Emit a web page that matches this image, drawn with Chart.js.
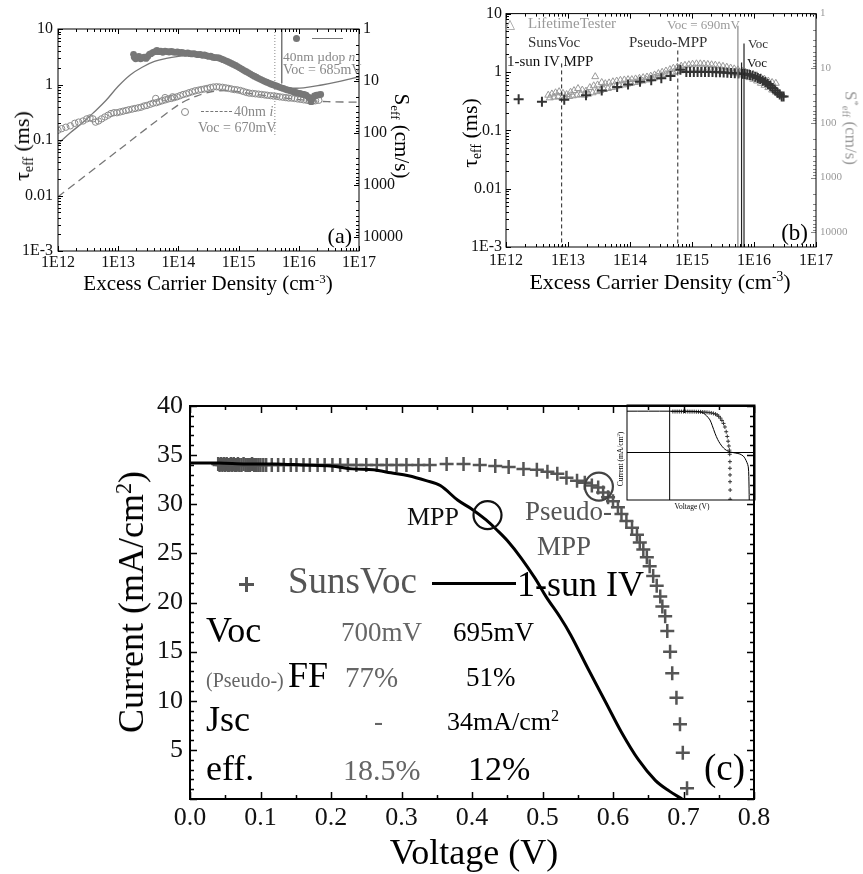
<!DOCTYPE html>
<html>
<head>
<meta charset="utf-8">
<script src="https://cdn.jsdelivr.net/npm/chart.js@4.4.0/dist/chart.umd.min.js"></script>
<style>
  body { margin: 0; background: #fff; width: 863px; height: 874px; overflow: hidden; position: relative; font-family: 'Liberation Serif', serif; }
  canvas { position: absolute; }
  .t { position: absolute; white-space: nowrap; line-height: 1em; color: #000; z-index: 5; }
  .t sub, .t sup { font-size: 0.62em; line-height: 0; vertical-align: baseline; position: relative; }
  .t sub { top: 0.3em; }
  .t sup { top: -0.55em; }
  .b { position: absolute; z-index: 5; }
</style>
</head>
<body>
<canvas id="chartA" width="430" height="300" style="left:0;top:0"></canvas>
<canvas id="chartB" width="433" height="300" style="left:430px;top:0"></canvas>
<canvas id="chartC" width="863" height="504" style="left:0;top:370px"></canvas>
<canvas id="chartInset" width="163" height="125" style="left:600px;top:395px"></canvas>
<script>
// ---- axis ticks ----
const X_DECADES = [1e12, 1e13, 1e14, 1e15, 1e16, 1e17];
const X_DECADE_LABELS = ['1E12', '1E13', '1E14', '1E15', '1E16', '1E17'];
const TAU_TICKS = [1e-3, 0.01, 0.1, 1, 10];
const TAU_LABELS = ['1E-3', '0.01', '0.1', '1', '10'];
const S_TICKS = [1, 10, 100, 1000, 10000];
const S_LABELS = ['1', '10', '100', '1000', '10000'];
const V_TICKS = [0, 0.1, 0.2, 0.3, 0.4, 0.5, 0.6, 0.7, 0.8];
const V_LABELS = ['0.0', '0.1', '0.2', '0.3', '0.4', '0.5', '0.6', '0.7', '0.8'];
const J_TICKS = [5, 10, 15, 20, 25, 30, 35, 40];

// ---- panel (a): 40nm µdop n (filled) and 40nm i (open) ----
const aDopN = [1.8e13, 1.85e13, 1.95e13, 2.05e13, 2.2e13, 2.35e13, 2.5e13, 2.7e13, 2.9e13, 3.1e13,
  3.3e13, 3.5e13, 3.8e13, 4.1e13, 4.4e13, 4.7e13, 5.1e13, 5.5e13, 6.0e13, 6.5e13,
  7.0e13, 7.6e13, 8.2e13, 8.9e13, 9.6e13, 1.04e14, 1.13e14, 1.22e14, 1.32e14, 1.43e14,
  1.55e14, 1.68e14, 1.82e14, 1.97e14, 2.13e14, 2.31e14, 2.5e14, 2.7e14, 2.93e14, 3.17e14,
  3.43e14, 3.72e14, 4.03e14, 4.36e14, 4.72e14, 5.11e14, 5.53e14, 5.99e14, 6.49e14, 7.03e14,
  7.6e14, 8.2e14, 8.9e14, 9.6e14, 1.04e15, 1.13e15, 1.22e15, 1.32e15, 1.43e15, 1.55e15,
  1.68e15, 1.82e15, 1.97e15, 2.13e15, 2.31e15, 2.5e15, 2.7e15, 2.93e15, 3.17e15, 3.43e15,
  3.72e15, 4.03e15, 4.36e15, 4.72e15, 5.11e15, 5.53e15, 5.99e15, 6.49e15, 7.03e15, 7.6e15,
  8.2e15, 8.9e15, 9.6e15, 1.04e16, 1.13e16, 1.22e16, 1.32e16, 1.43e16, 1.55e16, 1.6e16,
  1.68e16, 1.82e16, 1.97e16, 2.13e16, 2.31e16];
const aDopTau = [3.5, 3.1, 2.9, 3.0, 3.2, 2.9, 3.0, 3.1, 2.95, 3.2,
  3.5, 3.6, 3.8, 3.9, 4.1, 3.9, 4.0, 3.8, 4.0, 3.9,
  3.85, 3.95, 3.85, 3.8, 3.85, 3.75, 3.8, 3.7, 3.65, 3.7,
  3.6, 3.55, 3.6, 3.5, 3.45, 3.5, 3.35, 3.4, 3.3, 3.2,
  3.25, 3.1, 3.05, 3.05, 3.0, 2.9, 2.8, 2.7, 2.6, 2.5,
  2.4, 2.3, 2.2, 2.1, 2.0, 1.9, 1.8, 1.72, 1.64, 1.56,
  1.48, 1.41, 1.35, 1.29, 1.24, 1.19, 1.14, 1.1, 1.06, 1.02,
  0.99, 0.96, 0.93, 0.9, 0.87, 0.85, 0.82, 0.8, 0.78, 0.76,
  0.74, 0.72, 0.7, 0.69, 0.67, 0.66, 0.64, 0.6, 0.55, 0.49,
  0.57, 0.62, 0.64, 0.65, 0.66];
const aDopFitN = [1e12, 1.6e12, 2.5e12, 4e12, 6.3e12, 1e13, 1.6e13, 2.5e13, 4e13, 6.3e13, 1e14, 1.4e14, 2e14,
  3e14, 5e14, 8e14, 1.3e15, 2e15, 3.2e15, 5.2e15, 7.6e15, 1.2e16, 2.4e16, 5e16, 1e17];
const aDopFitTau = [0.085, 0.135, 0.2, 0.32, 0.52, 0.93, 1.5, 2.05, 2.6, 2.95, 3.2, 3.3, 3.3,
  3.15, 2.85, 2.25, 1.7, 1.32, 1.06, 0.92, 0.86, 0.87, 0.98, 1.15, 1.38];
const aIntN = [1.0e12, 1.15e12, 1.35e12, 1.6e12, 1.9e12, 2.2e12, 2.6e12, 3.0e12, 3.4e12, 3.8e12,
  4.2e12, 4.7e12, 5.3e12, 6.0e12, 6.8e12, 7.6e12, 8.5e12, 9.5e12, 1.07e13, 1.2e13,
  1.35e13, 1.5e13, 1.7e13, 1.9e13, 2.15e13, 2.4e13, 2.7e13, 3.0e13, 3.4e13, 3.8e13,
  4.2e13, 4.3e13, 4.8e13, 5.4e13, 6.0e13, 6.1e13, 6.8e13, 7.6e13, 8.0e13, 8.5e13,
  9.5e13, 1.07e14, 1.2e14, 1.35e14, 1.5e14, 1.7e14, 1.9e14, 2.15e14, 2.4e14, 2.7e14,
  3.0e14, 3.4e14, 3.8e14, 4.3e14, 4.8e14, 5.4e14, 6.1e14, 6.8e14, 7.6e14, 8.5e14,
  9.5e14, 1.07e15, 1.2e15, 1.35e15, 1.5e15, 1.7e15, 1.9e15, 2.15e15, 2.4e15, 2.7e15,
  3.0e15, 3.4e15, 3.8e15, 4.3e15, 4.8e15, 5.4e15, 6.1e15, 6.8e15, 7.6e15, 8.5e15,
  9.5e15, 1.07e16, 1.2e16, 1.35e16, 1.5e16, 1.7e16, 1.9e16, 2.15e16];
const aIntTau = [0.15, 0.16, 0.17, 0.18, 0.2, 0.21, 0.22, 0.24, 0.25, 0.24,
  0.21, 0.22, 0.24, 0.26, 0.28, 0.3, 0.31, 0.31, 0.32, 0.33,
  0.34, 0.35, 0.36, 0.37, 0.38, 0.39, 0.41, 0.42, 0.44, 0.46,
  0.56, 0.47, 0.49, 0.51, 0.58, 0.53, 0.55, 0.56, 0.6, 0.58,
  0.6, 0.63, 0.66, 0.68, 0.71, 0.74, 0.77, 0.79, 0.81, 0.83,
  0.85, 0.88, 0.9, 0.91, 0.9, 0.89, 0.87, 0.85, 0.83, 0.81,
  0.8, 0.78, 0.75, 0.72, 0.7, 0.69, 0.68, 0.67, 0.66, 0.65,
  0.64, 0.63, 0.62, 0.61, 0.6, 0.59, 0.58, 0.57, 0.57, 0.56,
  0.55, 0.54, 0.53, 0.52, 0.51, 0.5, 0.51, 0.52];
const aIntFitN = [1e12, 1e13, 1e14, 2e14, 3.5e14, 6e14, 1e15, 2e15, 4e15, 8e15, 1.6e16, 3e16, 1e17];
const aIntFitTau = [0.0095, 0.065, 0.43, 0.62, 0.74, 0.78, 0.74, 0.66, 0.6, 0.55, 0.51, 0.49, 0.48];
const aVoc685N = [5.2e15, 5.2e15];
const aVoc685Tau = [10, 1.05];
const aVoc670N = [4.0e15, 4.0e15];
const aVoc670Tau = [10, 0.12];

// ---- panel (b): LifetimeTester (triangles) and SunsVoc (pluses) ----
const bTesterN = [4.8e12, 5.5e12, 6.3e12, 7.2e12, 8.3e12, 9.5e12, 1.1e13, 1.25e13, 1.45e13, 1.7e13,
  1.95e13, 2.25e13, 2.75e13, 2.6e13, 3.0e13, 3.5e13, 4.0e13, 4.6e13, 5.3e13, 6.1e13,
  7.0e13, 8.1e13, 9.3e13, 1.07e14, 1.23e14, 1.42e14, 1.63e14, 1.88e14, 2.16e14, 2.49e14,
  2.87e14, 3.3e14, 3.8e14, 4.4e14, 5.0e14, 5.8e14, 6.7e14, 7.7e14, 8.9e14, 1.02e15,
  1.18e15, 1.36e15, 1.56e15, 1.8e15, 2.07e15, 2.38e15, 2.74e15, 3.16e15, 3.64e15, 4.2e15,
  4.8e15, 5.5e15, 6.4e15, 7.3e15, 8.4e15, 9.7e15, 1.12e16, 1.29e16, 1.48e16, 1.7e16,
  1.96e16, 2.25e16,
  5.1e12, 6.0e12, 7.0e12, 8.0e12, 9.0e12, 1.05e13, 1.2e13, 1.4e13, 1.6e13, 1.85e13,
  2.15e13, 2.5e13, 2.9e13, 3.3e13, 3.8e13, 4.4e13, 5.1e13, 5.9e13, 6.8e13, 7.8e13,
  9.0e13, 1.04e14, 1.2e14, 1.38e14, 1.6e14, 1.84e14, 2.12e14, 2.45e14, 2.82e14, 3.25e14,
  3.75e14, 4.3e14, 5.0e14, 5.7e14, 6.6e14, 7.6e14, 8.8e14, 1.01e15, 1.17e15, 1.35e15,
  1.55e15, 1.78e15, 2.05e15, 2.37e15, 2.73e15, 3.14e15, 3.62e15, 4.17e15, 4.8e15, 5.5e15,
  6.35e15, 7.3e15, 8.4e15, 9.7e15, 1.12e16, 1.29e16, 1.48e16, 1.7e16, 1.96e16, 2.25e16, 2.6e16];
const bTesterTau = [0.4, 0.42, 0.44, 0.46, 0.43, 0.41, 0.45, 0.48, 0.52, 0.49,
  0.47, 0.54, 0.83, 0.58, 0.6, 0.66, 0.63, 0.65, 0.68, 0.7,
  0.72, 0.73, 0.74, 0.74, 0.76, 0.78, 0.8, 0.82, 0.85, 0.89,
  0.94, 0.99, 1.04, 1.1, 1.16, 1.21, 1.26, 1.3, 1.33, 1.36,
  1.38, 1.38, 1.37, 1.35, 1.33, 1.31, 1.28, 1.25, 1.21, 1.17,
  1.13, 1.09, 1.04, 0.99, 0.95, 0.91, 0.86, 0.8, 0.75, 0.7,
  0.66, 0.64,
  0.36, 0.37, 0.38, 0.36, 0.37, 0.38, 0.39, 0.4, 0.41, 0.4,
  0.42, 0.44, 0.46, 0.48, 0.5, 0.52, 0.54, 0.56, 0.58, 0.6,
  0.62, 0.64, 0.66, 0.68, 0.7, 0.73, 0.76, 0.79, 0.82, 0.86,
  0.9, 0.94, 0.98, 1.02, 1.05, 1.08, 1.1, 1.12, 1.13, 1.13,
  1.12, 1.11, 1.1, 1.08, 1.06, 1.04, 1.02, 0.99, 0.96, 0.93,
  0.89, 0.85, 0.8, 0.75, 0.7, 0.64, 0.59, 0.54, 0.49, 0.45, 0.41];
const bSunsN = [1.6e12, 3.8e12, 8.7e12, 1.95e13, 3.5e13, 6.2e13, 9.3e13, 1.45e14, 2.2e14, 3.2e14,
  4.5e14, 6.5e14, 8.1e14, 9.3e14, 1.07e15, 1.23e15, 1.41e15, 1.62e15, 1.86e15, 2.14e15,
  2.45e15, 2.82e15, 3.24e15, 3.72e15, 4.27e15, 4.9e15, 5.6e15, 6.5e15, 7.1e15, 7.8e15,
  8.6e15, 9.5e15, 1.05e16, 1.15e16, 1.26e16, 1.38e16, 1.52e16, 1.67e16, 1.83e16, 2.0e16,
  2.2e16, 2.4e16, 2.6e16, 2.8e16, 3.0e16];
const bSunsTau = [0.34, 0.31, 0.335, 0.4, 0.48, 0.55, 0.61, 0.68, 0.72, 0.78,
  0.85, 1.09, 1.0, 1.0, 1.0, 1.0, 1.0, 1.0, 1.0, 1.0,
  0.99, 0.99, 0.98, 0.97, 0.96, 0.95, 0.94, 0.93, 0.92, 0.91,
  0.89, 0.86, 0.83, 0.79, 0.76, 0.71, 0.67, 0.62, 0.58, 0.53,
  0.48, 0.44, 0.41, 0.38, 0.38];
const bIvMppN = [7.9e12, 7.9e12];
const bIvMppTau = [1.4, 1e-3];
const bPseudoMppN = [5.9e14, 5.9e14];
const bPseudoMppTau = [2.33, 1e-3];
const bVoc690N = [5.5e15, 5.5e15];
const bVoc690Tau = [6.2, 1e-3];
const bVocIvN = [6.3e15, 6.3e15];
const bVocIvTau = [1.45, 1e-3];
const bVocSunsN = [6.9e15, 6.9e15];
const bVocSunsTau = [3.07, 1e-3];

// ---- panel (c): SunsVoc pseudo IV (pluses) and 1-sun IV (line) ----
const cSunsV = [0.040, 0.042, 0.044, 0.046, 0.048, 0.050, 0.052, 0.054, 0.056, 0.058,
  0.060, 0.062, 0.064, 0.066, 0.068, 0.070, 0.073, 0.076, 0.079, 0.082,
  0.085, 0.088, 0.091, 0.094, 0.097, 0.100, 0.104, 0.108,
  0.116, 0.125, 0.133, 0.143, 0.151, 0.161, 0.170, 0.181, 0.191, 0.202,
  0.213, 0.224, 0.236, 0.250, 0.265, 0.279, 0.293, 0.307, 0.324, 0.340,
  0.364, 0.388, 0.411, 0.433, 0.452, 0.473, 0.492, 0.507, 0.521, 0.534,
  0.549, 0.560, 0.570, 0.579, 0.586, 0.593, 0.600, 0.607, 0.612, 0.619,
  0.627, 0.634, 0.638, 0.643, 0.648, 0.652, 0.657, 0.662, 0.667, 0.670,
  0.674, 0.677, 0.681, 0.684, 0.690, 0.695, 0.699, 0.705];
const cSunsJ = [34.1, 34.0, 34.1, 34.0, 34.1, 34.0, 34.1, 34.0, 34.0, 34.1,
  34.0, 34.1, 34.0, 34.0, 34.1, 34.0, 34.0, 34.1, 34.0, 34.0,
  34.0, 34.1, 34.0, 34.0, 34.0, 34.0, 34.0, 34.0,
  34.0, 34.0, 34.0, 34.0, 34.0, 34.0, 34.0, 34.0, 34.0, 34.0,
  34.0, 34.0, 34.0, 34.0, 34.0, 34.0, 34.0, 34.0, 34.0, 34.0,
  34.1, 34.1, 34.0, 33.9, 33.8, 33.6, 33.5, 33.3, 33.1, 32.7,
  32.4, 32.2, 31.9, 31.7, 31.2, 30.7, 30.3, 29.7, 29.0, 28.3,
  27.6, 26.9, 26.1, 25.4, 24.6, 23.7, 22.7, 21.7, 20.6, 19.6,
  18.6, 17.1, 15.0, 12.8, 10.3, 7.6, 4.7, 1.1];
const cIvV = [0.000, 0.040, 0.080, 0.120, 0.160, 0.200, 0.230, 0.260, 0.285, 0.310,
  0.335, 0.355, 0.380, 0.400, 0.420, 0.435, 0.450, 0.470, 0.490, 0.505,
  0.525, 0.540, 0.565, 0.590, 0.612, 0.636, 0.660, 0.680, 0.698];
const cIvJ = [34.2, 34.2, 34.1, 34.1, 34.0, 33.9, 33.6, 33.5, 33.2, 32.9,
  32.4, 31.9, 30.4, 29.5, 28.4, 27.4, 26.3, 24.5, 22.4, 20.6,
  18.5, 16.7, 13.2, 9.8, 6.8, 4.0, 1.9, 0.8, 0.0];
const cMppV = [0.422];
const cMppJ = [28.9];
const cPseudoMppV = [0.58];
const cPseudoMppJ = [31.8];

// ---- inset of (c) ----
const insetIvV = [-0.4, 0.0, 0.2, 0.28, 0.315, 0.345, 0.378, 0.4, 0.425, 0.45, 0.471, 0.495,
  0.518, 0.55, 0.58, 0.62, 0.659, 0.69, 0.706, 0.725, 0.737, 0.742, 0.746];
const insetIvJ = [34.8, 34.8, 34.7, 34.3, 33.2, 31.0, 27.4, 22.5, 16.2, 11.0, 7.7, 4.8,
  2.7, 1.0, 0.2, -0.5, -1.3, -3.0, -4.9, -8.5, -12, -20, -40];
const insetSunsV = [0.03, 0.05, 0.07, 0.09, 0.11, 0.13, 0.15, 0.17, 0.19, 0.21,
  0.23, 0.25, 0.27, 0.29, 0.31, 0.33, 0.35, 0.37, 0.39, 0.41,
  0.43, 0.445, 0.46, 0.475, 0.49, 0.505, 0.518, 0.53, 0.54, 0.548,
  0.555, 0.56, 0.563, 0.565, 0.565, 0.566, 0.566, 0.567, 0.567];
const insetSunsJ = [34.5, 34.5, 34.5, 34.5, 34.5, 34.5, 34.5, 34.5, 34.4, 34.4,
  34.4, 34.3, 34.3, 34.2, 34.1, 34.0, 33.8, 33.6, 33.3, 32.9,
  32.3, 31.6, 30.5, 29.0, 27.0, 24.5, 21.5, 17.5, 13.5, 9.5,
  5.5, 2.0, -1.5, -7.7, -13.3, -18.9, -24.6, -31.6, -39.4];
const insetZeroV = [0, 0];
const insetZeroVJ = [-40, 40];
const insetZeroJV = [-0.4, 0.8];
const insetZeroJ = [0, 0];

const pts = (xs, ys) => xs.map((x, i) => ({ x, y: ys[i] }));

function logMinors(lo, hi) {
  const out = [];
  for (let d = Math.floor(Math.log10(lo)); d <= Math.ceil(Math.log10(hi)); d++) {
    for (let m = 2; m < 10; m++) {
      const v = m * Math.pow(10, d);
      if (v > lo && v < hi) out.push(v);
    }
  }
  return out;
}

// frame box and inward tick marks on all sides
const frameTicks = {
  id: 'frameTicks',
  afterDatasetsDraw(chart, args, o) {
    if (!o || o.frameWidth === undefined) return;
    const { ctx, chartArea: a } = chart;
    ctx.save();
    (o.marks || []).forEach(m => {
      const s = chart.scales[m.scale];
      ctx.strokeStyle = m.color || '#000';
      ctx.lineWidth = m.width || 1;
      ctx.beginPath();
      m.values.forEach(v => {
        const p = Math.round(s.getPixelForValue(v)) + 0.5;
        m.sides.forEach(side => {
          if (side === 'bottom') { ctx.moveTo(p, a.bottom); ctx.lineTo(p, a.bottom - m.len); }
          if (side === 'top') { ctx.moveTo(p, a.top); ctx.lineTo(p, a.top + m.len); }
          if (side === 'left') { ctx.moveTo(a.left, p); ctx.lineTo(a.left + m.len, p); }
          if (side === 'right') { ctx.moveTo(a.right, p); ctx.lineTo(a.right - m.len, p); }
        });
      });
      ctx.stroke();
    });
    ctx.strokeStyle = o.color || '#000';
    ctx.lineWidth = o.frameWidth;
    ctx.strokeRect(a.left, a.top, a.right - a.left, a.bottom - a.top);
    ctx.restore();
  }
};
Chart.register(frameTicks);

function axis(type, position, min, max, tickVals, labels, size, color, pad, fit, extra) {
  return Object.assign({
    type, position, min, max, bounds: 'data',
    grid: { display: false, drawTicks: false },
    border: { display: false },
    afterBuildTicks: s => { s.ticks = tickVals.map(v => ({ value: v })); },
    afterFit: s => { if (s.isHorizontal()) s.height = fit; else s.width = fit; },
    ticks: {
      autoSkip: false, maxRotation: 0, minRotation: 0, padding: pad, color,
      font: { family: 'Liberation Serif', size },
      callback: (v, i) => labels[i]
    }
  }, extra || {});
}

function baseOptions(padding, scales, marks, frameWidth) {
  return {
    responsive: false, animation: false, devicePixelRatio: 1, events: [],
    layout: { padding },
    plugins: {
      legend: { display: false }, tooltip: { enabled: false },
      frameTicks: { marks, frameWidth, color: '#000' }
    },
    scales
  };
}

const line = (data, color, width, dash, tension) => ({
  data, showLine: true, pointRadius: 0, borderColor: color, borderWidth: width,
  borderDash: dash || [], tension: tension || 0, fill: false
});

// ---------- (a) ----------
new Chart(document.getElementById('chartA'), {
  type: 'scatter',
  data: {
    datasets: [
      { data: pts(aDopN, aDopTau), pointRadius: 3.4, backgroundColor: '#777', borderColor: '#777', pointBorderWidth: 0 },
      { data: pts(aIntN, aIntTau), pointRadius: 3.2, backgroundColor: 'rgba(0,0,0,0)', borderColor: '#8a8a8a', pointBorderWidth: 1 },
      line(pts(aDopFitN, aDopFitTau), '#777', 1.3, null, 0.4),
      line(pts(aIntFitN, aIntFitTau), '#777', 1.3, [8, 5], 0.3),
      line(pts(aVoc685N, aVoc685Tau), '#777', 1),
      line(pts(aVoc670N, aVoc670Tau), '#888', 1, [1, 2])
    ]
  },
  options: baseOptions({ top: 29, left: 0, right: 0, bottom: 0 }, {
    x: axis('logarithmic', 'bottom', 1e12, 1e17, X_DECADES, X_DECADE_LABELS, 16, '#111', 2, 49),
    y: axis('logarithmic', 'left', 1e-3, 10, TAU_TICKS, TAU_LABELS, 16, '#111', 5, 58),
    s: axis('logarithmic', 'right', 1, 18600, S_TICKS, S_LABELS, 16, '#111', 4, 71, { reverse: true })
  }, [
    { scale: 'x', values: X_DECADES, sides: ['bottom', 'top'], len: 5 },
    { scale: 'x', values: logMinors(1e12, 1e17), sides: ['bottom', 'top'], len: 3 },
    { scale: 'y', values: TAU_TICKS, sides: ['left'], len: 5 },
    { scale: 'y', values: logMinors(1e-3, 10), sides: ['left'], len: 3 },
    { scale: 's', values: S_TICKS, sides: ['right'], len: 5 },
    { scale: 's', values: logMinors(1, 18600), sides: ['right'], len: 3 }
  ], 1)
});

// ---------- (b) ----------
new Chart(document.getElementById('chartB'), {
  type: 'scatter',
  data: {
    datasets: [
      line(pts(bIvMppN, bIvMppTau), '#222', 1, [4, 3]),
      line(pts(bPseudoMppN, bPseudoMppTau), '#222', 1, [4, 3]),
      line(pts(bVoc690N, bVoc690Tau), '#888', 1.2),
      line(pts(bVocIvN, bVocIvTau), '#222', 1.2),
      line(pts(bVocSunsN, bVocSunsTau), '#222', 1.2),
      { data: pts(bSunsN, bSunsTau), pointStyle: 'cross', pointRadius: 5, borderColor: '#333', pointBorderWidth: 2 },
      { data: pts(bTesterN, bTesterTau), pointStyle: 'triangle', pointRadius: 4, backgroundColor: 'rgba(0,0,0,0)', borderColor: '#999', pointBorderWidth: 1 }
    ]
  },
  options: baseOptions({ top: 13, left: 0, right: 0, bottom: 0 }, {
    x: axis('logarithmic', 'bottom', 1e12, 1e17, X_DECADES, X_DECADE_LABELS, 16, '#111', 4, 53),
    y: axis('logarithmic', 'left', 1e-3, 10, TAU_TICKS, TAU_LABELS, 16, '#111', 4, 76),
    s: axis('logarithmic', 'right', 1, 18700, S_TICKS, S_LABELS, 11, '#999', 4, 47, { reverse: true })
  }, [
    { scale: 'x', values: X_DECADES, sides: ['bottom', 'top'], len: 5 },
    { scale: 'x', values: logMinors(1e12, 1e17), sides: ['bottom', 'top'], len: 3 },
    { scale: 'y', values: TAU_TICKS, sides: ['left'], len: 5 },
    { scale: 'y', values: logMinors(1e-3, 10), sides: ['left'], len: 3 },
    { scale: 's', values: S_TICKS, sides: ['right'], len: 5, color: '#888' },
    { scale: 's', values: logMinors(1, 18700), sides: ['right'], len: 3, color: '#888' }
  ], 1)
});

// ---------- (c) ----------
const vMinors = [0.05, 0.15, 0.25, 0.35, 0.45, 0.55, 0.65, 0.75];
const jMinors = [];
for (let j = 1; j < 40; j++) if (j % 5) jMinors.push(j);
new Chart(document.getElementById('chartC'), {
  type: 'scatter',
  data: {
    datasets: [
      { data: pts(cMppV, cMppJ), pointStyle: 'circle', pointRadius: 14, backgroundColor: 'rgba(0,0,0,0)', borderColor: '#111', pointBorderWidth: 2.2 },
      { data: pts(cPseudoMppV, cPseudoMppJ), pointStyle: 'circle', pointRadius: 14, backgroundColor: 'rgba(0,0,0,0)', borderColor: '#444', pointBorderWidth: 2.2 },
      line(pts(cIvV, cIvJ), '#000', 3, null, 0.35),
      { data: pts(cSunsV, cSunsJ), pointStyle: 'cross', pointRadius: 7, borderColor: '#555', pointBorderWidth: 2.5 }
    ]
  },
  options: baseOptions({ top: 36, left: 0, right: 109, bottom: 0 }, {
    x: axis('linear', 'bottom', 0, 0.8, V_TICKS, V_LABELS, 26, '#111', 4, 75),
    y: axis('linear', 'left', 0, 40, J_TICKS, J_TICKS.map(String), 26, '#111', 7, 190)
  }, [
    { scale: 'x', values: V_TICKS, sides: ['bottom', 'top'], len: 7, width: 1.5 },
    { scale: 'x', values: vMinors, sides: ['bottom', 'top'], len: 4, width: 1.5 },
    { scale: 'y', values: [0].concat(J_TICKS), sides: ['left', 'right'], len: 7, width: 1.5 },
    { scale: 'y', values: jMinors, sides: ['left', 'right'], len: 4, width: 1.5 }
  ], 2)
});

// ---------- inset ----------
new Chart(document.getElementById('chartInset'), {
  type: 'scatter',
  data: {
    datasets: [
      line(pts(insetZeroV, insetZeroVJ), '#000', 1),
      line(pts(insetZeroJV, insetZeroJ), '#000', 1),
      line(pts(insetIvV, insetIvJ), '#000', 1, null, 0.3),
      { data: pts(insetSunsV, insetSunsJ), pointStyle: 'cross', pointRadius: 2, borderColor: '#333', pointBorderWidth: 1 }
    ]
  },
  options: baseOptions({ top: 10, left: 27, right: 8, bottom: 20 }, {
    x: { type: 'linear', min: -0.4, max: 0.8, display: false },
    y: { type: 'linear', min: -40, max: 40, display: false }
  }, [], 1)
});

// ---------- text and legend keys ----------
function put(x, base, size, html, opt) {
  opt = opt || {};
  const d = document.createElement('div');
  d.className = 't';
  d.innerHTML = html;
  d.style.fontSize = size + 'px';
  d.style.left = x + 'px';
  d.style.top = (base - 0.8375 * size) + 'px';
  if (opt.color) d.style.color = opt.color;
  if (opt.family) d.style.fontFamily = opt.family;
  if (opt.align === 'center') d.style.transform = 'translateX(-50%)';
  if (opt.align === 'right') d.style.transform = 'translateX(-100%)';
  document.body.appendChild(d);
}
function putRot(cx, cy, size, html, deg, color) {
  const d = document.createElement('div');
  d.className = 't';
  d.innerHTML = html;
  d.style.fontSize = size + 'px';
  d.style.left = cx + 'px';
  d.style.top = cy + 'px';
  d.style.transform = 'translate(-50%,-50%) rotate(' + deg + 'deg)';
  if (color) d.style.color = color;
  document.body.appendChild(d);
}
function key(css) {
  const d = document.createElement('div');
  d.className = 'b';
  d.style.cssText += css;
  document.body.appendChild(d);
}

// (a)
put(208, 291, 21, 'Excess Carrier Density (cm<sup>-3</sup>)', { align: 'center' });
putRot(22, 146, 22, '&tau;<sub>eff</sub> (ms)', -90);
putRot(401, 136, 21, 'S<sub>eff</sub> (cm/s)', 90);
put(352, 243, 22, '(a)', { align: 'right' });
key('left:293px;top:35px;width:7px;height:7px;border-radius:50%;background:#777');
key('left:312px;top:38px;width:31px;height:0;border-top:1.3px solid #777');
put(283, 61, 13.5, '40nm &micro;dop <i>n</i>', { color: '#888' });
put(283, 75, 14, 'Voc = 685mV', { color: '#888' });
key('left:181px;top:108px;width:6px;height:6px;border-radius:50%;border:1px solid #888');
key('left:201px;top:111px;width:31px;height:0;border-top:1.3px dashed #777');
put(234, 116.5, 14, '40nm <i>i</i>', { color: '#888' });
put(198, 133, 14, 'Voc = 670mV', { color: '#888' });

// (b)
put(660, 289, 22, 'Excess Carrier Density (cm<sup>-3</sup>)', { align: 'center' });
putRot(470, 133, 22, '&tau;<sub>eff</sub> (ms)', -90);
putRot(851, 128, 17, 'S<sup>*</sup><sub>eff</sub> (cm/s)', 90, '#999');
put(808, 240, 23, '(b)', { align: 'right' });
put(505, 28, 13, '&#9651;', { color: '#999', family: 'DejaVu Sans' });
put(528, 29, 15, 'LifetimeTester', { color: '#999' });
put(667, 29, 13, 'Voc = 690mV', { color: '#999' });
put(528, 48, 15, 'SunsVoc', { color: '#333' });
put(629, 48, 15, 'Pseudo-MPP', { color: '#333' });
put(748, 48, 13, 'Voc', { color: '#333' });
put(507, 67, 15, '1-sun IV MPP', { color: '#111' });
put(747, 67, 13, 'Voc', { color: '#111' });

// (c)
put(474, 864, 36, 'Voltage (V)', { align: 'center' });
putRot(131, 602, 36, 'Current (mA/cm<sup>2</sup>)', -90);
put(407, 526, 26, 'MPP', { color: '#111' });
put(525, 521, 27, 'Pseudo-', { color: '#555' });
put(537, 556, 27, 'MPP', { color: '#555' });
key('left:239px;top:583px;width:15px;height:2.5px;background:#555');
key('left:245.2px;top:577px;width:2.5px;height:15px;background:#555');
put(288, 593, 37, 'SunsVoc', { color: '#555' });
key('left:432px;top:582px;width:84px;height:3px;background:#000');
put(517, 596, 36, '1-sun IV');
put(206, 642, 36, 'Voc');
put(341, 642, 27, '700mV', { color: '#666' });
put(453, 642, 27, '695mV');
put(206, 687, 20, '(Pseudo-)', { color: '#666' });
put(288, 687, 36, 'FF');
put(345, 687, 29, '77%', { color: '#666' });
put(466, 687, 27, '51%');
put(206, 731, 36, 'Jsc');
put(374, 731, 27, '-', { color: '#666' });
put(447, 731, 26, '34mA/cm<sup>2</sup>');
put(206, 780, 36, 'eff.');
put(343, 780, 30, '18.5%', { color: '#666' });
put(468, 780, 34, '12%');
put(704, 780, 37, '(c)');

// inset
putRot(621, 459, 7.5, 'Current (mA/cm<sup>2</sup>)', -90);
put(692, 509, 7.5, 'Voltage (V)', { align: 'center' });
</script>
</body>
</html>
